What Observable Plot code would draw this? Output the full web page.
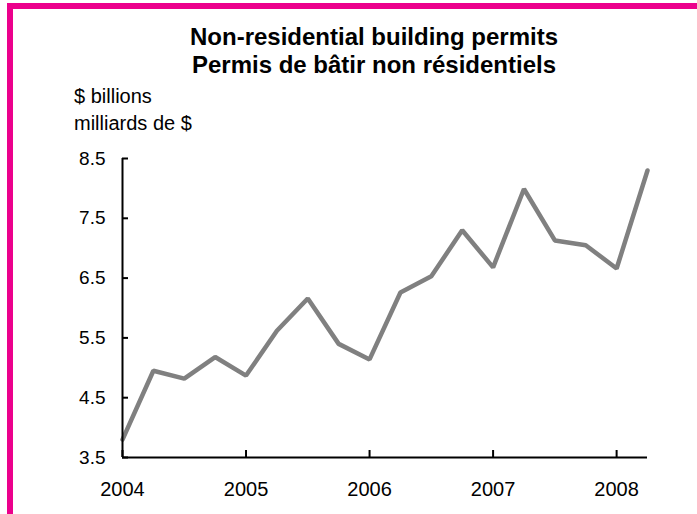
<!DOCTYPE html>
<html>
<head>
<meta charset="utf-8">
<script src="https://cdn.jsdelivr.net/npm/d3@7"></script>
<script src="https://cdn.jsdelivr.net/npm/@observablehq/plot@0.6"></script>
<style>
  html, body { margin: 0; padding: 0; background: #fff; overflow: hidden; }
  #wrap { position: relative; width: 697px; height: 514px; overflow: hidden; font-family: "Liberation Sans", Arial, sans-serif; }
  #frame { position: absolute; left: 7px; top: 3px; width: 760px; height: 560px; border-left: 6px solid #ec008c; border-top: 6px solid #ec008c; box-sizing: border-box; }
  #title { position: absolute; left: 100px; width: 548px; top: 23px; text-align: center; font-weight: bold; font-size: 24px; line-height: 28px; color: #000; }
  #unit { position: absolute; left: 74px; top: 83px; font-size: 20px; line-height: 27px; color: #000; }
  #chart { position: absolute; left: 0; top: 0; }
</style>
</head>
<body>
<div id="wrap">
  <div id="frame"></div>
  <div id="chart"></div>
  <div id="title">Non-residential building permits<br>Permis de bâtir non résidentiels</div>
  <div id="unit">$ billions<br>milliards de $</div>
</div>
<script>
const quarters = ["2004Q1","2004Q2","2004Q3","2004Q4","2005Q1","2005Q2","2005Q3","2005Q4",
                  "2006Q1","2006Q2","2006Q3","2006Q4","2007Q1","2007Q2","2007Q3","2007Q4",
                  "2008Q1","2008Q2"];
const values = [3.8, 4.95, 4.82, 5.18, 4.87, 5.62, 6.16, 5.4, 5.14, 6.26, 6.53, 7.3, 6.68, 7.99, 7.13, 7.05, 6.66, 8.3];
const yTicks = [3.5, 4.5, 5.5, 6.5, 7.5, 8.5];
const xTicks = [2004, 2005, 2006, 2007, 2008];

const toYear = q => +q.slice(0, 4) + (+q.slice(5) - 1) / 4;
const data = quarters.map((q, i) => ({t: toYear(q), v: values[i]}));

const chart = Plot.plot({
  width: 697,
  height: 514,
  marginLeft: 122,
  marginRight: 50,
  marginTop: 158,
  marginBottom: 57,
  style: {fontFamily: '"Liberation Sans", Arial, sans-serif', color: "#000", background: "transparent", overflow: "visible"},
  x: {domain: [2004, toYear(quarters[quarters.length - 1])], label: null},
  y: {domain: [yTicks[0], yTicks[yTicks.length - 1]], label: null},
  marks: [
    Plot.line(data, {x: "t", y: "v", stroke: "#808080", strokeWidth: 4.5, strokeLinejoin: "miter"}),
    Plot.ruleX([2004], {stroke: "#000", strokeWidth: 2}),
    Plot.ruleY([yTicks[0]], {stroke: "#000", strokeWidth: 2}),
    Plot.axisY(yTicks, {anchor: "left", tickSize: 6, dx: 6, tickFormat: () => "", strokeWidth: 2}),
    Plot.axisY(yTicks, {anchor: "left", tickSize: 0, tickPadding: 17, fontSize: 19, tickFormat: d => d.toFixed(1)}),
    Plot.axisX(xTicks, {anchor: "bottom", tickSize: 7, dy: -7, tickFormat: () => "", strokeWidth: 2}),
    Plot.axisX(xTicks, {anchor: "bottom", tickSize: 0, tickPadding: 24, fontSize: 20, tickFormat: d => String(d)})
  ]
});
document.getElementById("chart").appendChild(chart);
</script>
</body>
</html>
